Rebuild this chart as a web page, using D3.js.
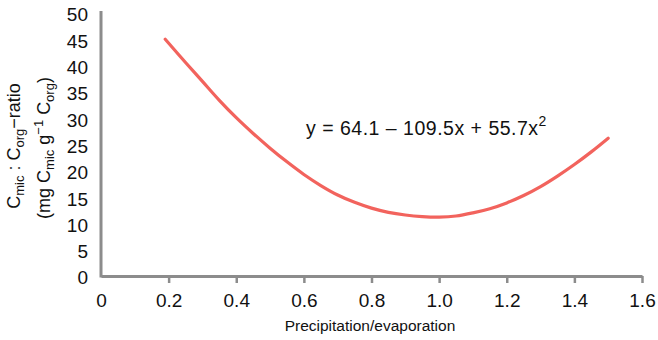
<!DOCTYPE html>
<html><head><meta charset="utf-8">
<script src="https://cdn.jsdelivr.net/npm/d3@7"></script>
<style>
body{margin:0;background:#fff;}
text{font-family:"Liberation Sans",Arial,Helvetica,sans-serif;fill:#111;}
</style></head>
<body><svg id="c" width="658" height="340"></svg>
<script>
const precipEvap = [0.19,0.25,0.30,0.35,0.40,0.45,0.50,0.55,0.60,0.65,0.70,0.75,0.80,0.85,0.90,0.95,1.00,1.05,1.10,1.15,1.20,1.25,1.30,1.35,1.40,1.45,1.50];
const cmicCorg   = [45.0,40.6,37.0,33.4,30.1,27.1,24.3,21.7,19.3,17.2,15.4,14.0,12.9,12.1,11.6,11.3,11.2,11.4,12.0,12.8,13.9,15.3,17.0,19.0,21.2,23.6,26.2];
const xTicks = [0,0.2,0.4,0.6,0.8,1.0,1.2,1.4,1.6];
const yTicks = [0,5,10,15,20,25,30,35,40,45,50];
const xTitle = "Precipitation/evaporation";

const svg = d3.select("#c");
const x = d3.scaleLinear().domain([0,1.6]).range([101,642]);
const y = d3.scaleLinear().domain([0,50]).range([276,13]);
const axisCol = "#8c8c8c";

// X axis
const gx = svg.append("g").attr("transform","translate(0,"+y(0)+")")
  .call(d3.axisBottom(x).tickValues(xTicks).tickSize(7).tickSizeOuter(0).tickPadding(11)
    .tickFormat(d => d===0 ? "0" : d3.format(".1f")(d)));
gx.select(".domain").attr("stroke",axisCol).attr("stroke-width",3);
gx.selectAll(".tick line").attr("stroke",axisCol).attr("stroke-width",2.5);
gx.selectAll(".tick").filter(d=>d===0).select("line").remove();
gx.selectAll(".tick text").attr("font-size",19).attr("fill","#111");

// Y axis
const gy = svg.append("g").attr("transform","translate("+x(0)+",0)")
  .call(d3.axisLeft(y).tickValues(yTicks).tickSize(0).tickSizeOuter(0).tickPadding(13));
gy.select(".domain").attr("stroke",axisCol).attr("stroke-width",3)
  .attr("d","M0,"+(y(50)-2)+"V"+(y(0)+1.5));
gy.selectAll(".tick text").attr("font-size",19).attr("fill","#111").attr("dy","0.42em");

// Curve
const pts = precipEvap.map((v,i)=>[v,cmicCorg[i]]);
svg.append("path").datum(pts)
  .attr("fill","none").attr("stroke","#f2635d").attr("stroke-width",3.2)
  .attr("stroke-linecap","round")
  .attr("d", d3.line().x(d=>x(d[0])).y(d=>y(d[1])).curve(d3.curveCatmullRom));

// Equation
const eq = svg.append("text").attr("x",306).attr("y",135).attr("font-size",19.5).attr("letter-spacing",0.5);
eq.append("tspan").text("y = 64.1 – 109.5x + 55.7x");
eq.append("tspan").attr("font-size",14).attr("dy",-9).text("2");

// X title
svg.append("text").attr("x",370).attr("y",331).attr("text-anchor","middle")
  .attr("font-size",15.5).text(xTitle);

// Y title
const yt1 = svg.append("text").attr("transform","translate(20,146) rotate(-90)")
  .attr("text-anchor","middle").attr("font-size",18);
yt1.append("tspan").text("C");
yt1.append("tspan").attr("font-size",13).attr("dy",4).text("mic");
yt1.append("tspan").attr("dy",-4).text(" : C");
yt1.append("tspan").attr("font-size",13).attr("dy",4).text("org");
yt1.append("tspan").attr("dy",-4).text("−ratio");

const yt2 = svg.append("text").attr("transform","translate(50,148) rotate(-90)")
  .attr("text-anchor","middle").attr("font-size",18);
yt2.append("tspan").text("(mg C");
yt2.append("tspan").attr("font-size",13).attr("dy",4).text("mic");
yt2.append("tspan").attr("dy",-4).text(" g");
yt2.append("tspan").attr("font-size",13).attr("dy",-7).text("−1");
yt2.append("tspan").attr("dy",7).text(" C");
yt2.append("tspan").attr("font-size",13).attr("dy",4).text("org");
yt2.append("tspan").attr("dy",-4).text(")");
</script></body></html>
